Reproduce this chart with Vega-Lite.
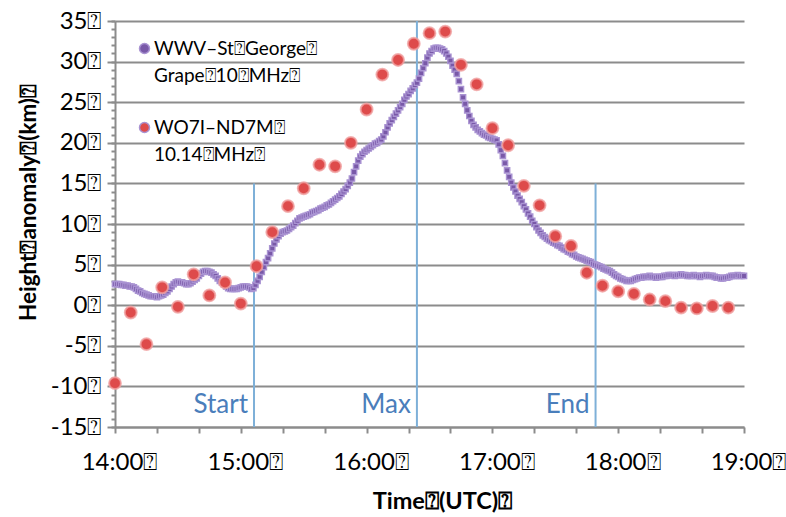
{
  "$schema": "https://vega.github.io/schema/vega-lite/v6.json",
  "width": 629,
  "height": 406,
  "autosize": {"type": "none"},
  "padding": {"left": 115, "top": 21, "right": 42, "bottom": 90},
  "background": "white",
  "config": {
    "view": {"stroke": null},
    "font": "Lato",
    "axis": {"labelFont": "Lato", "titleFont": "Lato", "labelColor": "#000000", "titleColor": "#000000", "domainColor": "#8c8c8c", "tickColor": "#8c8c8c", "gridColor": "#8c8c8c"},
    "legend": {"labelFont": "Lato"},
    "style": {"guide-label": {"lineHeight": 27}}
  },
  "datasets": {
    "wwv": [
      {"t":0,"v":2.6},{"t":1,"v":2.6},{"t":2,"v":2.6},{"t":3,"v":2.5},{"t":4,"v":2.5},{"t":5,"v":2.4},{"t":6,"v":2.4},{"t":7,"v":2.3},{"t":8,"v":2.3},{"t":9,"v":2.2},
      {"t":10,"v":2.0},{"t":11,"v":1.8},{"t":12,"v":1.7},{"t":13,"v":1.5},{"t":14,"v":1.4},{"t":15,"v":1.3},{"t":16,"v":1.2},{"t":17,"v":1.1},{"t":18,"v":1.1},{"t":19,"v":1.1},
      {"t":20,"v":1.0},{"t":21,"v":1.1},{"t":22,"v":1.2},{"t":23,"v":1.3},{"t":24,"v":1.5},{"t":25,"v":1.7},{"t":26,"v":2.0},{"t":27,"v":2.3},{"t":28,"v":2.6},{"t":29,"v":2.8},
      {"t":30,"v":2.9},{"t":31,"v":2.8},{"t":32,"v":2.8},{"t":33,"v":2.7},{"t":34,"v":2.6},{"t":35,"v":2.6},{"t":36,"v":2.7},{"t":37,"v":2.9},{"t":38,"v":3.1},{"t":39,"v":3.3},
      {"t":40,"v":3.6},{"t":41,"v":3.9},{"t":42,"v":4.1},{"t":43,"v":4.2},{"t":44,"v":4.2},{"t":45,"v":4.1},{"t":46,"v":4.0},{"t":47,"v":3.8},{"t":48,"v":3.6},{"t":49,"v":3.3},
      {"t":50,"v":3.0},{"t":51,"v":2.8},{"t":52,"v":2.6},{"t":53,"v":2.3},{"t":54,"v":2.1},{"t":55,"v":2.0},{"t":56,"v":2.0},{"t":57,"v":2.0},{"t":58,"v":2.0},{"t":59,"v":2.1},
      {"t":60,"v":2.2},{"t":61,"v":2.3},{"t":62,"v":2.3},{"t":63,"v":2.3},{"t":64,"v":2.2},{"t":65,"v":2.0},{"t":66,"v":2.1},{"t":67,"v":2.5},{"t":68,"v":3.0},{"t":69,"v":3.5},
      {"t":70,"v":4.1},{"t":71,"v":4.7},{"t":72,"v":5.3},{"t":73,"v":5.8},{"t":74,"v":6.4},{"t":75,"v":7.0},{"t":76,"v":7.6},{"t":77,"v":8.1},{"t":78,"v":8.5},{"t":79,"v":8.8},
      {"t":80,"v":9.0},{"t":81,"v":9.1},{"t":82,"v":9.2},{"t":83,"v":9.4},{"t":84,"v":9.6},{"t":85,"v":9.8},{"t":86,"v":10.1},{"t":87,"v":10.4},{"t":88,"v":10.7},{"t":89,"v":10.8},
      {"t":90,"v":10.9},{"t":91,"v":11.0},{"t":92,"v":11.1},{"t":93,"v":11.2},{"t":94,"v":11.4},{"t":95,"v":11.5},{"t":96,"v":11.6},{"t":97,"v":11.7},{"t":98,"v":11.9},{"t":99,"v":12.0},
      {"t":100,"v":12.1},{"t":101,"v":12.3},{"t":102,"v":12.4},{"t":103,"v":12.6},{"t":104,"v":12.8},{"t":105,"v":13.0},{"t":106,"v":13.2},{"t":107,"v":13.4},{"t":108,"v":13.7},{"t":109,"v":14.0},
      {"t":110,"v":14.3},{"t":111,"v":14.7},{"t":112,"v":15.1},{"t":113,"v":15.6},{"t":114,"v":16.4},{"t":115,"v":17.1},{"t":116,"v":17.8},{"t":117,"v":18.3},{"t":118,"v":18.6},{"t":119,"v":18.9},
      {"t":120,"v":19.1},{"t":121,"v":19.3},{"t":122,"v":19.5},{"t":123,"v":19.7},{"t":124,"v":19.9},{"t":125,"v":20.0},{"t":126,"v":20.2},{"t":127,"v":20.4},{"t":128,"v":20.8},{"t":129,"v":21.3},
      {"t":130,"v":21.9},{"t":131,"v":22.4},{"t":132,"v":22.8},{"t":133,"v":23.2},{"t":134,"v":23.6},{"t":135,"v":24.0},{"t":136,"v":24.4},{"t":137,"v":24.8},{"t":138,"v":25.3},{"t":139,"v":25.7},
      {"t":140,"v":26.0},{"t":141,"v":26.4},{"t":142,"v":26.7},{"t":143,"v":27.1},{"t":144,"v":27.4},{"t":145,"v":27.9},{"t":146,"v":28.6},{"t":147,"v":29.2},{"t":148,"v":29.8},{"t":149,"v":30.5},
      {"t":150,"v":31.0},{"t":151,"v":31.3},{"t":152,"v":31.6},{"t":153,"v":31.7},{"t":154,"v":31.7},{"t":155,"v":31.6},{"t":156,"v":31.5},{"t":157,"v":31.3},{"t":158,"v":31.0},{"t":159,"v":30.6},
      {"t":160,"v":30.1},{"t":161,"v":29.5},{"t":162,"v":29.0},{"t":163,"v":28.5},{"t":164,"v":27.6},{"t":165,"v":26.6},{"t":166,"v":25.6},{"t":167,"v":24.8},{"t":168,"v":24.0},{"t":169,"v":23.3},
      {"t":170,"v":22.7},{"t":171,"v":22.2},{"t":172,"v":21.9},{"t":173,"v":21.6},{"t":174,"v":21.4},{"t":175,"v":21.2},{"t":176,"v":21.0},{"t":177,"v":20.9},{"t":178,"v":20.7},{"t":179,"v":20.6},
      {"t":180,"v":20.5},{"t":181,"v":20.4},{"t":182,"v":20.3},{"t":183,"v":19.8},{"t":184,"v":19.1},{"t":185,"v":18.4},{"t":186,"v":17.5},{"t":187,"v":16.6},{"t":188,"v":15.8},{"t":189,"v":15.1},
      {"t":190,"v":14.5},{"t":191,"v":14.0},{"t":192,"v":13.5},{"t":193,"v":13.1},{"t":194,"v":12.7},{"t":195,"v":12.2},{"t":196,"v":11.8},{"t":197,"v":11.3},{"t":198,"v":10.9},{"t":199,"v":10.4},
      {"t":200,"v":10.0},{"t":201,"v":9.6},{"t":202,"v":9.2},{"t":203,"v":8.9},{"t":204,"v":8.6},{"t":205,"v":8.4},{"t":206,"v":8.2},{"t":207,"v":8.0},{"t":208,"v":7.9},{"t":209,"v":7.7},
      {"t":210,"v":7.6},{"t":211,"v":7.4},{"t":212,"v":7.3},{"t":213,"v":7.1},{"t":214,"v":6.9},{"t":215,"v":6.8},{"t":216,"v":6.6},{"t":217,"v":6.5},{"t":218,"v":6.3},{"t":219,"v":6.2},
      {"t":220,"v":6.0},{"t":221,"v":5.9},{"t":222,"v":5.8},{"t":223,"v":5.7},{"t":224,"v":5.6},{"t":225,"v":5.5},{"t":226,"v":5.4},{"t":227,"v":5.3},{"t":228,"v":5.1},{"t":229,"v":5.0},
      {"t":230,"v":4.9},{"t":231,"v":4.8},{"t":232,"v":4.7},{"t":233,"v":4.5},{"t":234,"v":4.4},{"t":235,"v":4.3},{"t":236,"v":4.2},{"t":237,"v":4.0},{"t":238,"v":3.8},{"t":239,"v":3.6},
      {"t":240,"v":3.5},{"t":241,"v":3.3},{"t":242,"v":3.2},{"t":243,"v":3.1},{"t":244,"v":3.0},{"t":245,"v":3.0},{"t":246,"v":3.0},{"t":247,"v":3.1},{"t":248,"v":3.2},{"t":249,"v":3.3},
      {"t":250,"v":3.4},{"t":251,"v":3.4},{"t":252,"v":3.5},{"t":253,"v":3.5},{"t":254,"v":3.5},{"t":255,"v":3.6},{"t":256,"v":3.5},{"t":257,"v":3.5},{"t":258,"v":3.4},{"t":259,"v":3.5},
      {"t":260,"v":3.5},{"t":261,"v":3.5},{"t":262,"v":3.6},{"t":263,"v":3.6},{"t":264,"v":3.7},{"t":265,"v":3.7},{"t":266,"v":3.7},{"t":267,"v":3.6},{"t":268,"v":3.7},{"t":269,"v":3.7},
      {"t":270,"v":3.8},{"t":271,"v":3.7},{"t":272,"v":3.7},{"t":273,"v":3.6},{"t":274,"v":3.6},{"t":275,"v":3.6},{"t":276,"v":3.7},{"t":277,"v":3.6},{"t":278,"v":3.6},{"t":279,"v":3.5},
      {"t":280,"v":3.6},{"t":281,"v":3.6},{"t":282,"v":3.7},{"t":283,"v":3.6},{"t":284,"v":3.6},{"t":285,"v":3.6},{"t":286,"v":3.5},{"t":287,"v":3.4},{"t":288,"v":3.4},{"t":289,"v":3.3},
      {"t":290,"v":3.3},{"t":291,"v":3.4},{"t":292,"v":3.4},{"t":293,"v":3.5},{"t":294,"v":3.6},{"t":295,"v":3.6},{"t":296,"v":3.6},{"t":297,"v":3.7},{"t":298,"v":3.6},{"t":299,"v":3.6},
      {"t":300,"v":3.6}
    ],
    "wo7i": [
      {"t":0,"v":-9.6},{"t":7.5,"v":-0.9},{"t":15,"v":-4.8},{"t":22.5,"v":2.2},{"t":30,"v":-0.2},{"t":37.5,"v":3.8},{"t":45,"v":1.2},{"t":52.5,"v":2.8},{"t":60,"v":0.2},{"t":67.5,"v":4.8},
      {"t":75,"v":9.0},{"t":82.5,"v":12.2},{"t":90,"v":14.4},{"t":97.5,"v":17.3},{"t":105,"v":17.1},{"t":112.5,"v":20.0},{"t":120,"v":24.1},{"t":127.5,"v":28.4},{"t":135,"v":30.2},{"t":142.5,"v":32.2},
      {"t":150,"v":33.5},{"t":157.5,"v":33.7},{"t":165,"v":29.6},{"t":172.5,"v":27.2},{"t":180,"v":21.8},{"t":187.5,"v":19.7},{"t":195,"v":14.7},{"t":202.5,"v":12.3},{"t":210,"v":8.5},{"t":217.5,"v":7.3},
      {"t":225,"v":4.0},{"t":232.5,"v":2.4},{"t":240,"v":1.7},{"t":247.5,"v":1.4},{"t":255,"v":0.7},{"t":262.5,"v":0.5},{"t":270,"v":-0.3},{"t":277.5,"v":-0.4},{"t":285,"v":-0.1},{"t":292.5,"v":-0.3}
    ],
    "events": [
      {"t":66.3,"base":-15,"top":15,"label":"Start"},
      {"t":144,"base":-15,"top":35,"label":"Max"},
      {"t":229.2,"base":-15,"top":15,"label":"End"}
    ]
  },
  "layer": [
    {
      "data": {"name": "events"},
      "mark": {"type": "rule", "color": "#7eb0d8", "strokeWidth": 2},
      "encoding": {
        "x": {"field": "t", "type": "quantitative", "scale": {"domain": [0, 300], "nice": false, "zero": false}},
        "y": {"field": "base", "type": "quantitative", "scale": {"domain": [-15, 35], "nice": false, "zero": false}, "axis": null},
        "y2": {"field": "top"}
      }
    },
    {
      "data": {"name": "events"},
      "mark": {"type": "text", "color": "#4a7ebb", "fontSize": 26, "font": "Lato", "align": "right", "baseline": "middle", "dx": -6, "dy": -22},
      "encoding": {
        "x": {"field": "t", "type": "quantitative"},
        "y": {"field": "base", "type": "quantitative", "axis": null},
        "text": {"field": "label", "type": "nominal"}
      }
    },
    {
      "data": {"name": "wwv"},
      "transform": [{"calculate": "'WWV–St⍰George⍰|Grape⍰10⍰MHz⍰'", "as": "series"}],
      "mark": {"type": "square", "size": 28, "filled": true, "opacity": 1, "stroke": "#a993d2", "strokeWidth": 1.4},
      "encoding": {
        "x": {"field": "t", "type": "quantitative", "axis": {"orient": "bottom", "values": [0,10,20,30,40,50,60,70,80,90,100,110,120,130,140,150,160,170,180,190,200,210,220,230,240,250,260,270,280,290,300], "labelExpr": "datum.value % 60 === 0 ? (14 + datum.value / 60) + ':00⍰' : ''", "labelFontSize": 24, "labelPadding": 17, "labelOffset": 4, "tickSize": 6, "tickWidth": 2, "domainWidth": 2, "grid": false, "title": "Time⍰(UTC)⍰", "titleFontSize": 23.5, "titleFontWeight": "bold", "titlePadding": 15, "titleX": 327, "labelFlush": false, "labelOverlap": false}},
        "y": {"field": "v", "type": "quantitative", "axis": {"orient": "left", "values": [-15,-10,-5,0,5,10,15,20,25,30,35], "labelExpr": "datum.value + '⍰'", "labelFontSize": 24, "labelPadding": 6, "tickSize": 8, "tickWidth": 2, "domainWidth": 2, "grid": true, "gridWidth": 1.8, "title": "Height⍰anomaly⍰(km)⍰", "titleFontSize": 22.5, "titleFontWeight": "bold", "titleX": -87, "titleY": 181, "titleAlign": "center", "titleBaseline": "middle", "titleAngle": -90, "labelFlush": false}},
        "color": {"field": "series", "type": "nominal", "scale": {"domain": ["WWV–St⍰George⍰|Grape⍰10⍰MHz⍰", "WO7I–ND7M⍰|10.14⍰MHz⍰"], "range": ["#7959a8", "#de4b4b"]},
          "legend": {"orient": "none", "legendX": 20, "legendY": 18, "title": null, "labelExpr": "split(datum.label, '|')", "labelFontSize": 19, "labelOffset": 0, "labelLimit": 400, "rowPadding": 32, "padding": 0,
            "encode": {
              "symbols": {"update": {"fill": {"signal": "datum.index === 1 ? '#ffffff' : '#7959a8'"}, "fillOpacity": {"value": 1}, "stroke": {"signal": "datum.index === 1 ? '#c0504d' : '#7959a8'"}, "size": {"signal": "datum.index === 1 ? 150 : 22"}, "strokeWidth": {"signal": "datum.index === 1 ? 1.8 : 1"}, "shape": {"value": "circle"}, "opacity": {"value": 1}}},
              "labels": {"update": {"lineHeight": {"value": 27}, "baseline": {"value": "top"}, "dy": {"value": -12}}}
            }
          }
        }
      }
    },
    {
      "data": {"name": "wo7i"},
      "transform": [{"calculate": "'WO7I–ND7M⍰|10.14⍰MHz⍰'", "as": "series"}],
      "mark": {"type": "circle", "size": 140, "opacity": 1, "stroke": "#f0a0a0", "strokeWidth": 2, "strokeOpacity": 0.8},
      "encoding": {
        "x": {"field": "t", "type": "quantitative"},
        "y": {"field": "v", "type": "quantitative", "axis": {"orient": "left", "values": [-15,-14,-13,-12,-11,-10,-9,-8,-7,-6,-5,-4,-3,-2,-1,0,1,2,3,4,5,6,7,8,9,10,11,12,13,14,15,16,17,18,19,20,21,22,23,24,25,26,27,28,29,30,31,32,33,34,35], "labels": false, "domain": false, "grid": false, "tickSize": 4, "tickWidth": 2, "title": null}},
        "color": {"field": "series", "type": "nominal",
          "legend": {"orient": "none", "legendX": 20, "legendY": 18, "title": null, "labelExpr": "split(datum.label, '|')", "labelFontSize": 19, "labelOffset": 0, "labelLimit": 400, "rowPadding": 32, "padding": 0,
            "encode": {
              "symbols": {"update": {"fill": {"signal": "datum.index === 1 ? '#ffffff' : '#7959a8'"}, "fillOpacity": {"value": 1}, "stroke": {"signal": "datum.index === 1 ? '#c0504d' : '#7959a8'"}, "size": {"signal": "datum.index === 1 ? 150 : 22"}, "strokeWidth": {"signal": "datum.index === 1 ? 1.8 : 1"}, "shape": {"value": "circle"}, "opacity": {"value": 1}}},
              "labels": {"update": {"lineHeight": {"value": 27}, "baseline": {"value": "top"}, "dy": {"value": -12}}}
            }
          }
        }
      }
    }
  ],
  "resolve": {"axis": {"y": "independent"}}
}
